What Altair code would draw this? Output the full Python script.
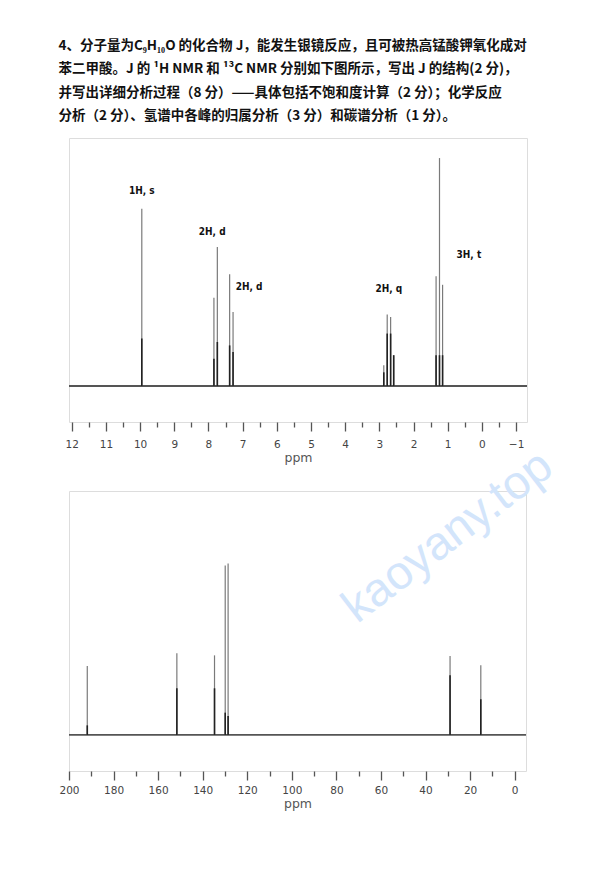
import altair as alt
import pandas as pd

# ---------------- data ----------------
title_lines = [
    "4、分子量为C₉H₁₀O 的化合物 J，能发生银镜反应，且可被热高锰酸钾氧化成对",
    "\u3000\u2002苯二甲酸。J 的 ¹H NMR 和 ¹³C NMR 分别如下图所示，写出 J 的结构(2 分)，",
    "\u3000\u2002并写出详细分析过程（8 分）——具体包括不饱和度计算（2 分）；化学反应",
    "\u3000\u2002分析（2 分）、氢谱中各峰的归属分析（3 分）和碳谱分析（1 分）。",
]

# 1H NMR sticks (ppm, relative intensity, dark core height)
h_ppm = [9.95, 7.84, 7.74, 7.38, 7.28, 2.87, 2.77, 2.67, 2.58, 1.34, 1.24, 1.15]
h_int = [77.8, 38.7, 61.0, 49.0, 32.5, 9.1, 31.4, 30.3, 13.5, 48.1, 100.0, 44.4]
h_core = [20.8, 12.0, 19.3, 17.8, 14.9, 6.0, 23.0, 23.0, 13.5, 13.5, 13.5, 13.5]

h_lab_text = ["1H, s", "2H, d", "2H, d", "2H, q", "3H, t"]
h_lab_ppm = [9.95, 7.89, 6.81, 2.72, 0.38]
h_lab_y = [85.4, 67.5, 43.4, 42.4, 57.3]

h_major = list(range(-1, 13))
h_minor = [v + 0.5 for v in range(-2, 12)]

# 13C NMR sticks
c_ppm = [191.8, 151.6, 134.7, 129.9, 128.6, 29.0, 15.2]
c_int = [40.2, 47.6, 46.4, 98.8, 100.0, 46.0, 40.6]
c_core = [5.6, 27.2, 27.2, 13.0, 11.0, 34.8, 20.8]

c_major = list(range(0, 201, 20))
c_minor = list(range(10, 200, 20))

# ---------------- tables ----------------
h_df = pd.DataFrame({"ppm": h_ppm, "int": h_int, "core": h_core})
h_lab = pd.DataFrame({"ppm": h_lab_ppm, "y": h_lab_y, "t": h_lab_text})
c_df = pd.DataFrame({"ppm": c_ppm, "int": c_int, "core": c_core})
one = pd.DataFrame({"z": [0]})

AX_FONT = "DejaVu Sans"
CJK = "Noto Sans CJK SC"


def panel(df, lab, xdom, ydom, major, minor, w, h, label_pad):
    xs = alt.Scale(domain=xdom, reverse=True, nice=False, zero=False)
    ys = alt.Scale(domain=ydom, nice=False, zero=False)
    major_axis = alt.Axis(values=major, tickSize=9, tickColor="#555", tickWidth=1.3,
                          labelFont=AX_FONT, labelFontSize=10.5, labelColor="#444",
                          labelPadding=label_pad, domain=False, grid=False,
                          title="ppm", titleFont=AX_FONT, titleFontSize=12.5,
                          titleFontWeight="normal", titleColor="#555", titlePadding=2,
                          orient="bottom", labelFlush=False)
    minor_axis = alt.Axis(values=minor, tickSize=5, tickColor="#555", tickWidth=1.3,
                          labels=False, domain=False, grid=False, title=None,
                          orient="bottom")
    base = alt.Chart(one).mark_rule(color="#555", strokeWidth=1.8).encode(
        y=alt.Y("z:Q", scale=ys, axis=None))
    sticks = alt.Chart(df).mark_rule(color="#7a7a7a", strokeWidth=1.2).encode(
        x=alt.X("ppm:Q", scale=xs, axis=major_axis),
        y=alt.Y("int:Q", scale=ys, axis=None),
        y2=alt.datum(0))
    cores = alt.Chart(df).mark_rule(color="#222", strokeWidth=1.6).encode(
        x=alt.X("ppm:Q", scale=xs, axis=minor_axis),
        y=alt.Y("core:Q", scale=ys, axis=None),
        y2=alt.datum(0))
    layers = [base, sticks, cores]
    if lab is not None:
        texts = alt.Chart(lab).mark_text(font="DejaVu Sans Condensed", fontSize=10,
                                         fontWeight="bold", color="#111").encode(
            x=alt.X("ppm:Q", scale=xs, axis=None),
            y=alt.Y("y:Q", scale=ys, axis=None),
            text="t:N")
        layers.append(texts)
    return alt.layer(*layers).resolve_axis(x="independent").properties(width=w, height=h)


top = panel(h_df, h_lab, [-1.32, 12.08], [-15.8, 108.8], h_major, h_minor, 458, 284, 8)
bottom = panel(c_df, None, [-5.08, 200], [-21.0, 142.2], c_major, c_minor, 457, 280, 5)

watermark = alt.Chart(one).mark_text(font="Liberation Sans", fontSize=47, angle=322.5,
                                     color="#d3e5fb").encode(
    x=alt.value(379), y=alt.value(46), text=alt.value("kaoyany.top"))
bottom = alt.layer(bottom, watermark)

chart = alt.vconcat(top, bottom, spacing=69, bounds="flush").properties(
    title=alt.TitleParams(text=title_lines, anchor="start", font=CJK, fontSize=13.5,
                          fontWeight=600, color="#111", lineHeight=23.5,
                          baseline="top", dx=0, offset=15),
    padding={"left": 50, "top": 30, "right": 5, "bottom": 5},
).configure_view(stroke="#8c8c8c", strokeWidth=2).configure(background="white")

chart.save("out.html", embed_options={"renderer": "svg", "actions": False})
